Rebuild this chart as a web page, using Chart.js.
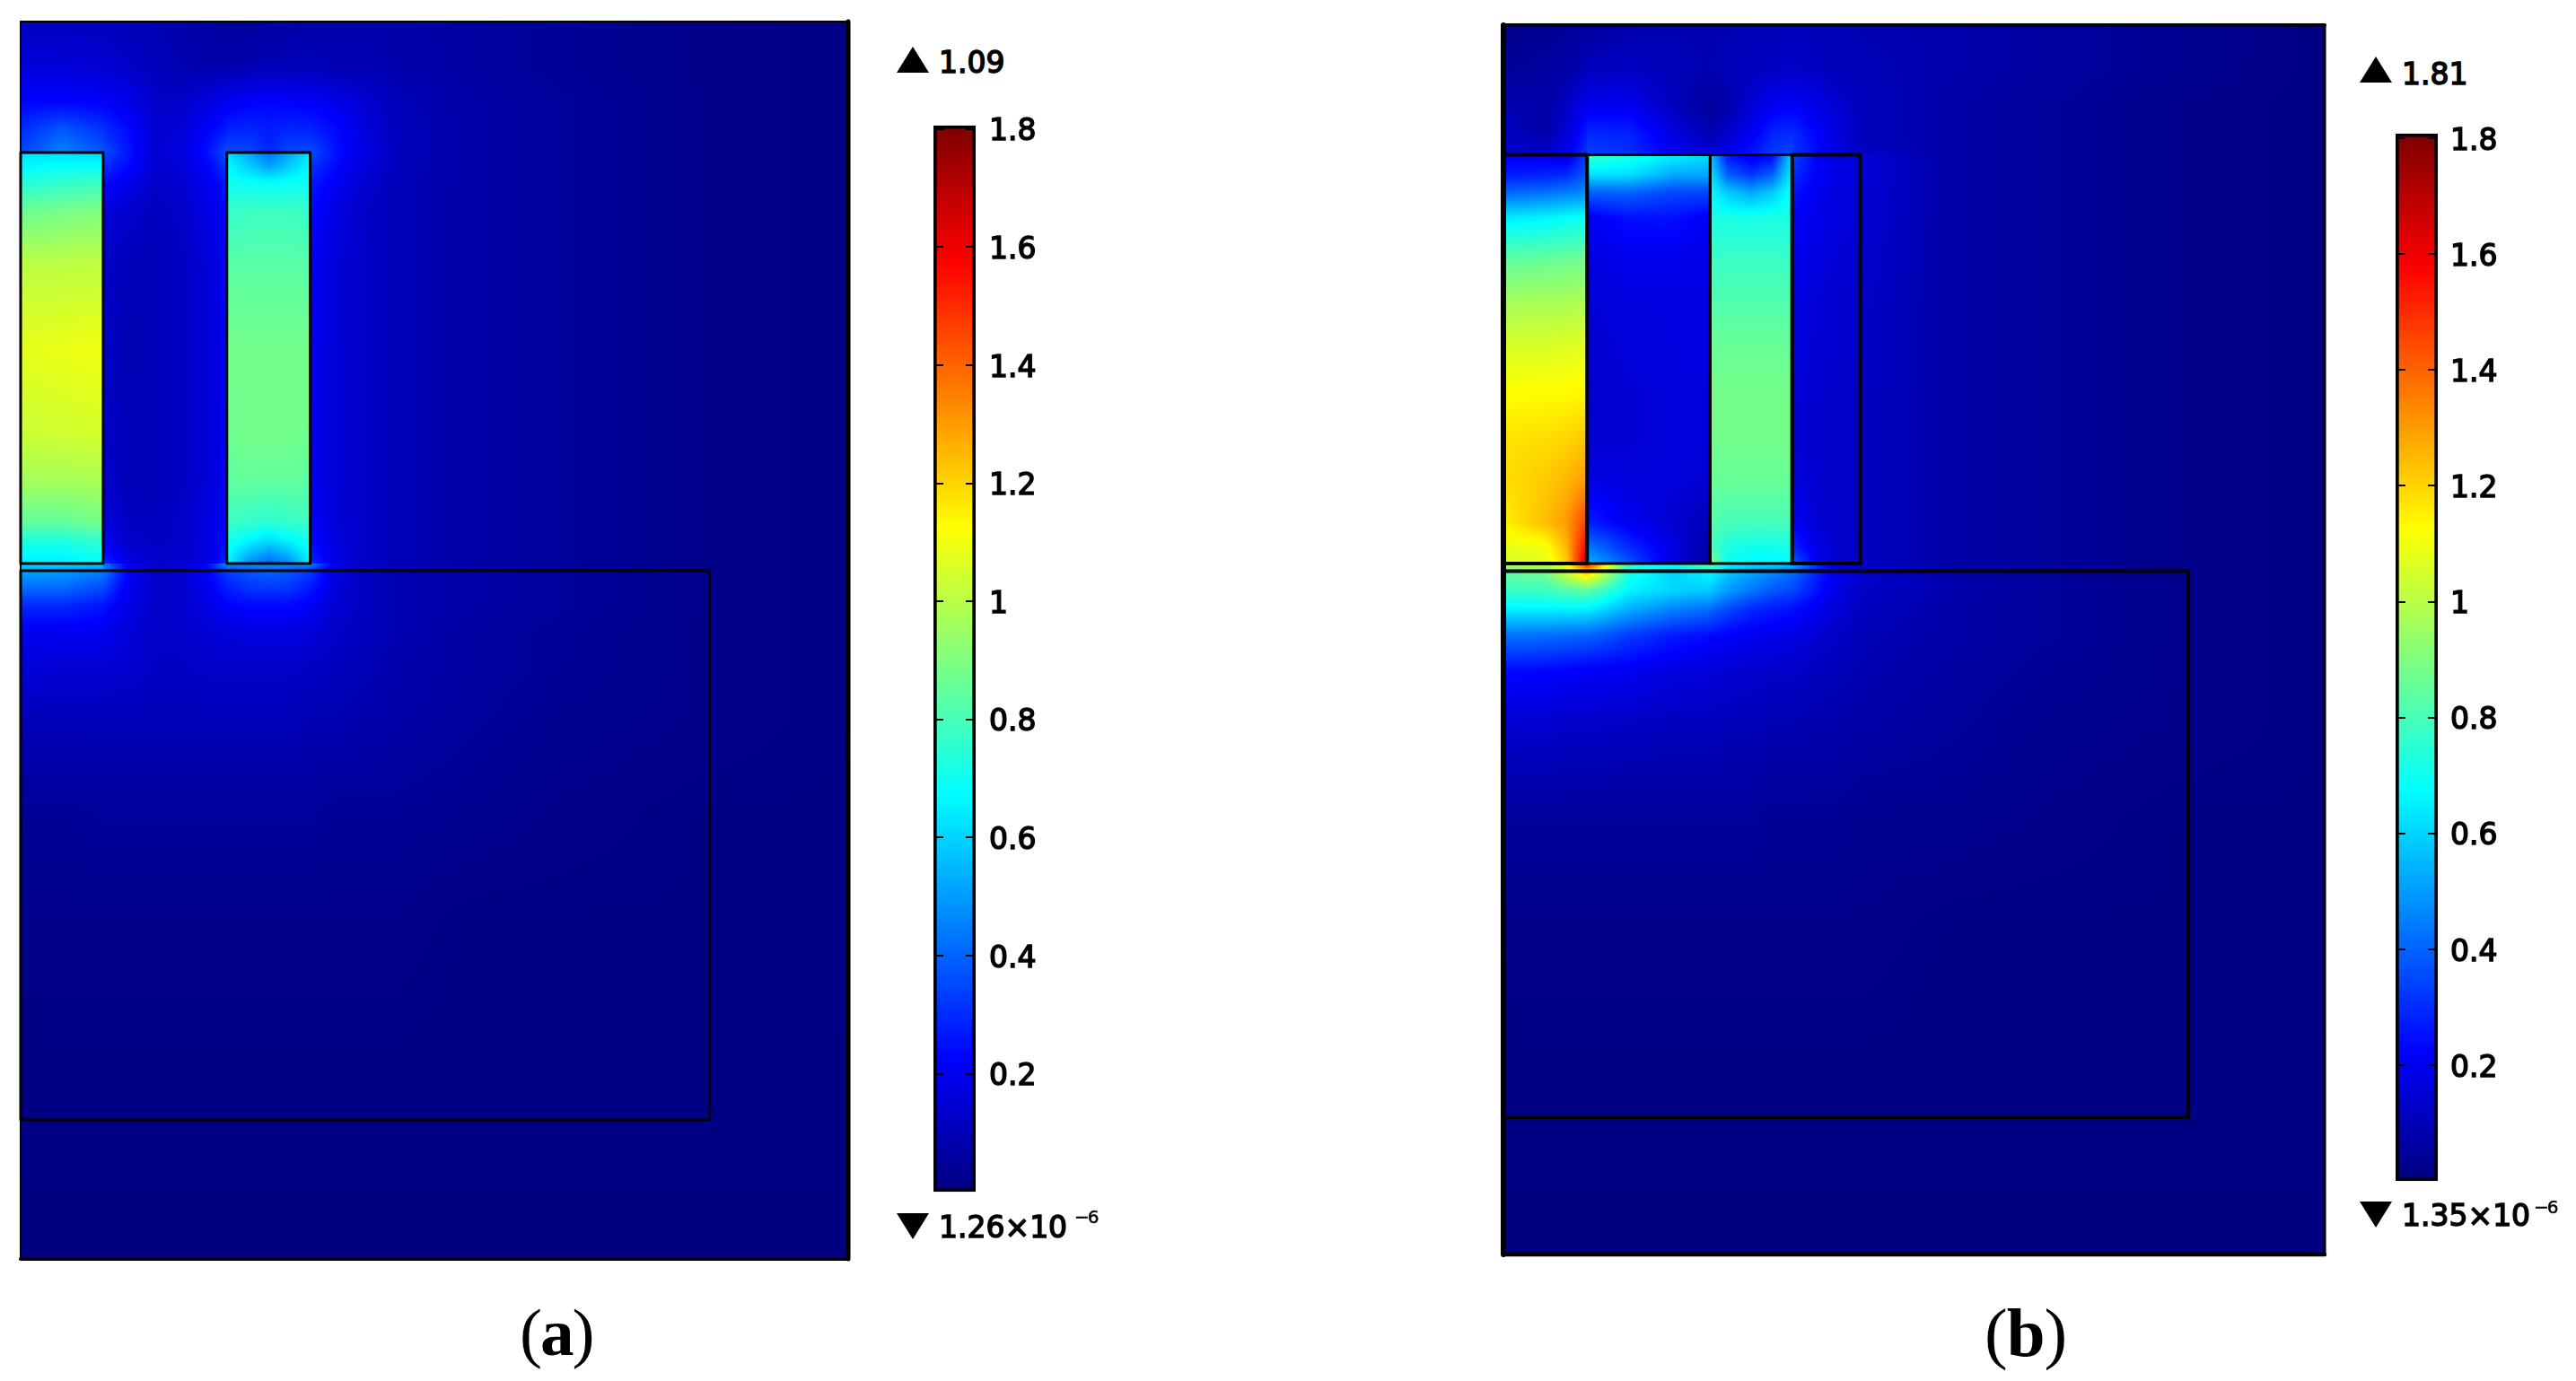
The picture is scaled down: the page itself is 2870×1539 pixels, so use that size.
<!DOCTYPE html>
<html><head><meta charset="utf-8">
<style>
html,body{margin:0;padding:0;background:#fff;width:2870px;height:1539px;overflow:hidden}
canvas{position:absolute;display:block}
.t{position:absolute;font-family:"DejaVu Sans";font-size:33px;line-height:1;color:#000;white-space:nowrap;-webkit-text-stroke:1.5px #000}
.e{position:absolute;font-family:"DejaVu Sans";font-size:20px;line-height:1;color:#000;white-space:nowrap;letter-spacing:-2px;-webkit-text-stroke:.5px #000}
.c{position:absolute;font-family:"Liberation Serif";font-size:75px;line-height:1;color:#000;white-space:nowrap;letter-spacing:-2px}
.c b{font-weight:bold}
.up,.dn{position:absolute;width:0;height:0;border-left:18px solid transparent;border-right:18px solid transparent}
.up{border-bottom:29px solid #000}.dn{border-top:29px solid #000}
</style></head><body>
<canvas id="fieldA" width="938" height="1395" style="left:15px;top:16px"></canvas>
<canvas id="fieldB" width="931" height="1386" style="left:1667px;top:20px"></canvas>
<canvas id="barA" width="125" height="1258" style="left:1040px;top:105px"></canvas>
<canvas id="barB" width="125" height="1235" style="left:2669px;top:115px"></canvas>

<div class="up" style="left:999px;top:52px"></div><div class="t" style="left:1046px;top:53px">1.09</div>
<div class="dn" style="left:999px;top:1352px"></div><div class="t" style="left:1046px;top:1351px">1.26×10</div><div class="e" style="left:1197px;top:1346px">−6</div>
<div class="up" style="left:2629px;top:63px"></div><div class="t" style="left:2676px;top:66px">1.81</div>
<div class="dn" style="left:2629px;top:1339px"></div><div class="t" style="left:2676px;top:1338px">1.35×10</div><div class="e" style="left:2823px;top:1335px">−6</div>
<div class="c" style="left:579px;top:1447px">(<b>a</b>)</div>
<div class="c" style="left:2211px;top:1447px;font-size:77px;letter-spacing:-1px">(<b>b</b>)</div>

<script src="https://cdn.jsdelivr.net/npm/chart.js@4"></script>
<script>
// colour-scale ticks
const tickValues = [0.2,0.4,0.6,0.8,1.0,1.2,1.4,1.6,1.8];
const rangeA = [0.00000126, 1.806];
const rangeB = [0.00000135, 1.808];

// ---- panel (a): model extent, outlines, field samples ----
const extentA = [92.3, 137.9];
const outlinesA = [[0,14.6,9.2,60.4],[23,14.6,32.3,60.4],[0,61.2,76.85,122.4]];
const xA = [0,4.6,9.2, 9.2,12,15,18,21,23, 23,25.5,27.7,30,32.3, 32.3,35,38,42,50,60,76,92.3];
const yA = [0,5,9,12,14.6, 14.6,16,18,21,26.7,36.4,46,51,55.8,58,60.4, 60.4,61.2,63,65,68,72,78,88,100,122,137.9];
const fieldA = [
[.11,.11,.11, .11,.10,.09,.08,.06,.05, .05,.05,.06,.07,.08, .08,.08,.08,.07,.06,.04,.02,.01],
[.16,.16,.15, .15,.13,.11,.09,.08,.08, .08,.09,.10,.10,.10, .10,.09,.09,.08,.06,.04,.02,.01],
[.23,.23,.22, .22,.19,.13,.13,.17,.20, .20,.22,.23,.22,.22, .22,.19,.15,.10,.07,.05,.02,.01],
[.30,.38,.31, .30,.24,.14,.16,.22,.27, .28,.29,.27,.29,.28, .28,.24,.17,.11,.07,.05,.02,.01],
[.34,.46,.38, .36,.26,.15,.17,.26,.36, .36,.35,.29,.35,.36, .36,.26,.18,.11,.07,.05,.02,.01],
[.62,.62,.60, .36,.26,.15,.17,.26,.36, .63,.53,.42,.53,.63, .36,.26,.18,.11,.07,.05,.02,.01],
[.66,.68,.68, .31,.24,.14,.16,.23,.32, .67,.58,.50,.58,.67, .32,.24,.17,.11,.07,.05,.02,.01],
[.74,.76,.78, .24,.19,.13,.15,.20,.27, .70,.69,.68,.69,.70, .27,.21,.15,.10,.07,.05,.02,.01],
[.86,.88,.90, .17,.14,.11,.13,.18,.23, .76,.78,.78,.78,.76, .24,.18,.13,.10,.07,.05,.02,.01],
[1.00,1.00,1.01, .13,.10,.10,.12,.16,.20, .83,.83,.83,.83,.83, .21,.16,.13,.10,.07,.05,.02,.01],
[1.08,1.09,1.10, .13,.09,.10,.12,.16,.20, .88,.88,.88,.88,.88, .20,.16,.13,.10,.07,.05,.02,.01],
[1.03,1.04,1.05, .13,.10,.10,.12,.16,.20, .87,.88,.88,.88,.87, .20,.16,.13,.10,.07,.05,.02,.01],
[.97,.97,.98, .14,.10,.10,.12,.16,.20, .84,.85,.85,.85,.84, .20,.16,.13,.10,.07,.05,.02,.01],
[.85,.85,.88, .17,.12,.11,.13,.17,.22, .78,.77,.75,.77,.78, .22,.16,.13,.10,.07,.05,.02,.01],
[.72,.72,.76, .20,.14,.12,.13,.17,.24, .71,.65,.60,.65,.71, .24,.17,.13,.10,.07,.05,.02,.01],
[.64,.64,.67, .30,.18,.14,.14,.18,.30, .66,.47,.40,.47,.66, .30,.18,.13,.10,.07,.05,.02,.01],
[.62,.62,.60, .45,.20,.14,.15,.25,.50, .50,.50,.50,.50,.50, .45,.20,.13,.10,.07,.05,.02,.01],
[.52,.50,.45, .45,.22,.13,.14,.23,.33, .33,.38,.40,.38,.33, .33,.17,.12,.09,.07,.05,.02,.01],
[.42,.42,.36, .36,.20,.13,.14,.20,.28, .28,.32,.33,.32,.27, .27,.16,.12,.09,.07,.05,.02,.01],
[.30,.30,.26, .26,.18,.13,.14,.18,.22, .22,.24,.24,.24,.21, .21,.15,.12,.09,.07,.05,.02,.01],
[.20,.20,.20, .20,.16,.13,.13,.15,.16, .16,.17,.17,.17,.16, .16,.13,.11,.09,.06,.04,.02,.01],
[.16,.15,.15, .15,.14,.12,.12,.13,.13, .13,.13,.13,.13,.12, .12,.11,.10,.08,.06,.04,.02,.01],
[.10,.10,.10, .10,.10,.10,.10,.10,.10, .10,.10,.10,.10,.09, .09,.09,.08,.07,.05,.03,.02,.01],
[.04,.04,.05, .05,.05,.05,.05,.05,.05, .05,.05,.05,.05,.05, .05,.04,.04,.04,.03,.02,.01,.01],
[.02,.02,.02, .02,.02,.02,.02,.02,.02, .02,.02,.02,.02,.02, .02,.02,.02,.02,.01,.01,.01,.01],
[.005,.005,.005, .005,.005,.005,.005,.005,.005, .005,.005,.005,.005,.005, .005,.005,.005,.005,.005,.005,.005,.005],
[.002,.002,.002, .002,.002,.002,.002,.002,.002, .002,.002,.002,.002,.002, .002,.002,.002,.002,.002,.002,.002,.002]
];

// ---- panel (b) ----
const extentB = [91.6, 137];
const outlinesB = [[0,14.45,9.34,60],[9.34,14.45,23.06,60],[23.06,14.45,32.2,60],[32.2,14.45,39.8,60],[0,60.85,76.4,121.7]];
const xB = [0,4.7,7,9.34, 9.34,14,19,23.06, 23.06,25,27.6,30,32.2, 32.2,35,37,39.8,50,60,76,91.6];
const yB = [0,5,9,12,14.45, 14.45,16.7,18.6,21.5,26.3,31.2,36,41,45.7,50.6,55.4,58.3,60, 60,60.85,63,65,68,72,78,88,100,121.7,137];
const fieldB = [
[.02,.03,.04,.05, .05,.08,.09,.09, .09,.09,.10,.10,.10, .10,.10,.10,.09,.08,.06,.03,.01],
[.04,.06,.07,.10, .11,.12,.10,.09, .09,.10,.11,.12,.13, .13,.12,.10,.10,.08,.06,.03,.01],
[.09,.07,.12,.20, .20,.20,.11,.05, .05,.08,.15,.20,.22, .22,.18,.15,.11,.07,.05,.02,.01],
[.12,.07,.15,.27, .29,.28,.17,.09, .09,.13,.20,.28,.30, .30,.22,.17,.11,.07,.05,.02,.01],
[.14,.14,.20,.32, .34,.31,.21,.16, .16,.20,.26,.33,.34, .32,.24,.17,.12,.07,.05,.02,.01],
[.20,.20,.17,.33, .78,.72,.66,.62, .58,.25,.18,.22,.62, .35,.22,.17,.16,.07,.05,.02,.01],
[.27,.28,.30,.38, .62,.62,.52,.52, .64,.40,.32,.40,.66, .30,.22,.18,.16,.07,.05,.02,.01],
[.40,.42,.44,.47, .40,.40,.35,.35, .67,.58,.52,.58,.70, .26,.20,.17,.15,.07,.05,.02,.01],
[.64,.66,.68,.69, .20,.25,.25,.20, .72,.72,.72,.72,.72, .22,.19,.17,.15,.07,.05,.02,.01],
[.85,.86,.87,.88, .17,.19,.19,.18, .78,.78,.78,.78,.78, .20,.17,.15,.14,.07,.05,.02,.01],
[.97,.98,.98,.99, .15,.17,.17,.18, .82,.82,.82,.82,.82, .18,.15,.14,.13,.07,.05,.02,.01],
[1.06,1.06,1.07,1.08, .14,.16,.17,.18, .86,.86,.86,.86,.86, .17,.15,.14,.13,.07,.05,.02,.01],
[1.12,1.13,1.13,1.14, .14,.15,.16,.17, .88,.88,.88,.88,.88, .16,.14,.13,.12,.07,.05,.02,.01],
[1.17,1.18,1.19,1.22, .14,.15,.16,.17, .88,.88,.88,.88,.88, .15,.14,.13,.12,.07,.05,.02,.01],
[1.18,1.22,1.25,1.30, .18,.16,.16,.15, .86,.86,.86,.86,.86, .17,.14,.13,.12,.07,.05,.02,.01],
[1.15,1.24,1.30,1.47, .28,.20,.14,.10, .82,.80,.80,.80,.80, .22,.15,.13,.12,.07,.05,.02,.01],
[1.08,1.10,1.25,1.60, .45,.30,.18,.06, .80,.72,.70,.70,.72, .30,.18,.14,.12,.07,.05,.02,.01],
[1.05,1.08,1.20,1.70, .55,.38,.15,.08, .92,.70,.66,.66,.66, .40,.20,.15,.12,.07,.05,.02,.01],
[1.00,1.00,1.10,1.55, 1.55,.75,.70,.90, .90,.68,.63,.63,.58, .58,.30,.18,.13,.08,.05,.02,.01],
[.85,.88,1.05,1.25, 1.25,.72,.60,.67, .67,.58,.52,.47,.42, .42,.28,.20,.14,.08,.05,.02,.01],
[.78,.78,.82,.84, .84,.66,.60,.58, .58,.50,.44,.38,.35, .35,.25,.18,.13,.08,.05,.02,.01],
[.66,.66,.66,.66, .66,.54,.46,.42, .42,.36,.30,.27,.25, .25,.20,.16,.12,.07,.05,.02,.01],
[.43,.42,.41,.40, .40,.33,.27,.24, .24,.22,.20,.19,.18, .18,.15,.13,.10,.07,.05,.02,.01],
[.24,.23,.22,.21, .21,.20,.17,.16, .16,.15,.14,.13,.13, .13,.11,.10,.09,.06,.04,.02,.01],
[.14,.14,.13,.13, .13,.12,.11,.11, .11,.10,.10,.09,.09, .09,.08,.08,.07,.05,.03,.02,.01],
[.05,.05,.05,.05, .05,.05,.05,.05, .05,.05,.05,.04,.04, .04,.04,.04,.03,.03,.02,.01,.01],
[.02,.02,.02,.02, .02,.02,.02,.02, .02,.02,.02,.02,.02, .02,.02,.02,.02,.01,.01,.01,.01],
[.005,.005,.005,.005, .005,.005,.005,.005, .005,.005,.005,.005,.005, .005,.005,.005,.005,.005,.005,.005,.005],
[.002,.002,.002,.002, .002,.002,.002,.002, .002,.002,.002,.002,.002, .002,.002,.002,.002,.002,.002,.002,.002]
];

const clamp01 = v => Math.max(0, Math.min(1, v));
function jet(v){
  const t = clamp01(v / 1.8);
  return [clamp01(Math.min(4*t-1.5, -4*t+4.5)), clamp01(Math.min(4*t-0.5, -4*t+3.5)), clamp01(Math.min(4*t+0.5, -4*t+2.5))].map(c => Math.round(c*255));
}
function cell(nodes, q){
  let i = 0;
  while (i < nodes.length-2 && !(nodes[i+1] > q)) i++;
  const span = nodes[i+1] - nodes[i];
  return [i, span > 0 ? clamp01((q - nodes[i]) / span) : 0];
}
// paints the sampled field under the outlines, looking every pixel up through the chart's own scales
const fieldPlugin = {
  id: 'field',
  beforeDatasetsDraw(chart, args, opts){
    const {x: sx, y: sy} = chart.scales, a = chart.chartArea;
    const w = Math.round(a.width), h = Math.round(a.height);
    const off = document.createElement('canvas'); off.width = w; off.height = h;
    const oc = off.getContext('2d'), img = oc.createImageData(w, h);
    let p = 0;
    for (let r = 0; r < h; r++){
      const [i, fy] = cell(opts.ys, sy.getValueForPixel(a.top + r + .5));
      for (let c = 0; c < w; c++){
        const [j, fx] = cell(opts.xs, sx.getValueForPixel(a.left + c + .5));
        const R0 = opts.values[i], R1 = opts.values[i+1];
        const v = (R0[j]*(1-fx)+R0[j+1]*fx)*(1-fy) + (R1[j]*(1-fx)+R1[j+1]*fx)*fy;
        const col = jet(v);
        img.data[p++] = col[0]; img.data[p++] = col[1]; img.data[p++] = col[2]; img.data[p++] = 255;
      }
    }
    oc.putImageData(img, 0, 0);
    chart.ctx.drawImage(off, a.left, a.top, a.width, a.height);
  }
};
function rectPath(r){ return [{x:r[0],y:r[1]},{x:r[2],y:r[1]},{x:r[2],y:r[3]},{x:r[0],y:r[3]},{x:r[0],y:r[1]}]; }
function line(points, width){
  return {type:'scatter', data:points, showLine:true, borderColor:'#000', borderWidth:width, pointRadius:0, tension:0, clip:false, borderJoinStyle:'round', borderCapStyle:'round'};
}
function fieldChart(id, extent, outlines, xs, ys, values, sideWidths, lineWidths){
  const [W, H] = extent;
  const nodes = [];
  ys.forEach((y,i) => xs.forEach((x,j) => nodes.push({x, y, v: values[i][j]})));
  const sides = [
    [{x:0,y:0},{x:0,y:H}], [{x:0,y:0},{x:W,y:0}], [{x:W,y:0},{x:W,y:H}], [{x:0,y:H},{x:W,y:H}]
  ];
  return new Chart(document.getElementById(id), {
    type:'scatter',
    data:{datasets:[
      ...sides.map((s,i) => line(s, sideWidths[i])),
      ...outlines.map((r,i) => line(rectPath(r), lineWidths[i])),
      {label:'|B|', data:nodes, pointRadius:0, showLine:false}
    ]},
    options:{
      responsive:false, animation:false, events:[],
      layout:{padding:8},
      plugins:{legend:{display:false}, tooltip:{enabled:false}, field:{xs, ys, values}},
      scales:{
        x:{type:'linear', min:0, max:W, display:false},
        y:{type:'linear', min:0, max:H, reverse:true, display:false}
      }
    },
    plugins:[fieldPlugin]
  });
}
const tickMarks = {
  id:'tickMarks',
  afterDatasetsDraw(chart){
    const a = chart.chartArea, c = chart.ctx, s = chart.scales.y;
    c.save(); c.strokeStyle = '#000'; c.lineWidth = 2;
    s.ticks.forEach(t => {
      const y = Math.round(s.getPixelForValue(t.value));
      c.beginPath(); c.moveTo(a.left, y); c.lineTo(a.left+11, y); c.moveTo(a.right-11, y); c.lineTo(a.right, y); c.stroke();
    });
    c.restore();
  }
};
function scaleBar(id, range, pad){
  return new Chart(document.getElementById(id), {
    type:'bar',
    data:{labels:['|B|'], datasets:[{
      data:[range],
      barPercentage:1, categoryPercentage:1,
      borderColor:'#000', borderWidth:4, borderSkipped:false,
      backgroundColor(ctx){
        const ch = ctx.chart, s = ch.scales.y;
        if (!ch.chartArea || !s) return '#000';
        const y0 = s.getPixelForValue(0), y1 = s.getPixelForValue(1.8);
        const g = ch.ctx.createLinearGradient(0, y0, 0, y1);
        [0,.225,.675,1.125,1.575,1.8].forEach(v => { const c = jet(v); g.addColorStop(v/1.8, `rgb(${c[0]},${c[1]},${c[2]})`); });
        return g;
      }
    }]},
    options:{
      responsive:false, animation:false, events:[],
      layout:{padding:{top:4,bottom:4,left:0,right:0}},
      plugins:{legend:{display:false}, tooltip:{enabled:false}},
      scales:{
        x:{display:false, offset:true, grid:{display:false}},
        y:{
          position:'right', min:0, max:range[1],
          afterFit(s){ s.width = 78; },
          afterBuildTicks(s){ s.ticks = tickValues.map(v => ({value:v})); },
          border:{display:false},
          grid:{display:false, drawTicks:false},
          ticks:{
            padding:pad, color:'#000', textStrokeColor:'#000', textStrokeWidth:1.5,
            font:{family:'DejaVu Sans', size:33},
            labelOffset:4,
            autoSkip:false, maxRotation:0,
            callback:v => String(Number(v.toFixed(1)))
          }
        }
      }
    },
    plugins:[tickMarks]
  });
}
fieldChart('fieldA', extentA, outlinesA, xA, yA, fieldA, [2,2,5,4], [3,3,3]);
fieldChart('fieldB', extentB, outlinesB, xB, yB, fieldB, [6,4,3,4.5], [4,3,3,4,4]);
scaleBar('barA', rangeA, 15);
scaleBar('barB', rangeB, 14);
</script>
</body></html>
